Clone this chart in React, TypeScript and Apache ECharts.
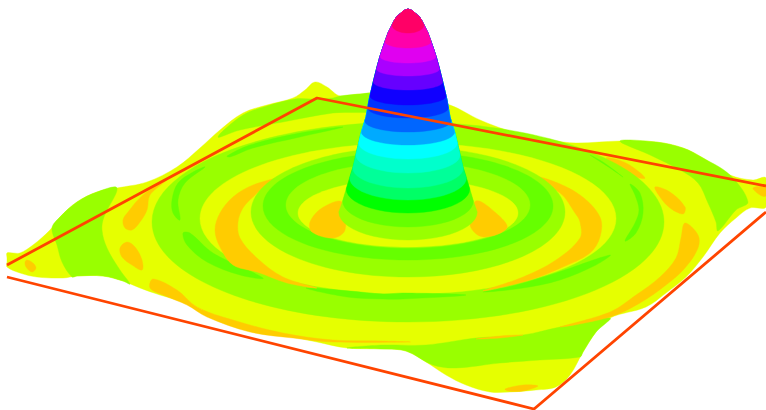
import React, { useEffect, useRef } from "react";
import * as echarts from "echarts";

type Pt = number[];
const LIME = "#99ff00";
const YELLOW = "#e6ff00";
const ORANGE = "#ffcc00";
const GREEN = "#66ff00";
const FRAME = "#ff4400";

const surfaceOutline: Pt[] = [[7,258],[7,253],[13,253],[20,253],[33,245],[50,230],[60,217],[77,202],[97,192],[117,188],[147,182],[177,167],[200,148],[220,130],[243,113],[267,105],[293,98],[305,90],[315,82],[327,87],[340,96],[360,94],[408,95],[450,105],[480,120],[516,133],[550,140],[576,143],[620,141],[656,142],[683,148],[703,158],[730,175],[753,180],[766,178],[766,207],[750,208],[736,218],[720,233],[703,257],[686,277],[666,293],[646,307],[610,318],[596,332],[583,352],[570,375],[556,387],[536,390],[510,392],[490,392],[466,385],[446,375],[426,362],[406,351],[383,349],[347,348],[317,342],[283,335],[250,327],[213,315],[187,303],[160,295],[140,288],[123,281],[103,276],[77,276],[63,278],[37,277],[20,273],[7,267],[7,262]];

const edgeLeft: Pt[] = [[52,228],[60,217],[77,202],[97,192],[117,188],[104,217],[102,230],[107,248],[120,270],[130,284],[123,281],[103,276],[77,276],[72,277],[62,262],[57,245]];
const edgeBack: Pt[] = [[218,137],[243,115],[267,106],[295,99],[313,99],[333,98],[340,96],[360,94],[378,94],[378,110],[333,113],[283,122],[240,130]];
const edgeRight: Pt[] = [[620,141],[656,142],[683,148],[703,158],[730,175],[748,202],[736,210],[718,231],[716,222],[708,203],[698,183],[680,170],[650,155]];
const edgeFront: Pt[] = [[347,348],[383,345],[426,345],[476,338],[523,335],[560,327],[610,318],[596,332],[583,352],[580,357],[540,360],[500,363],[456,368],[433,365],[406,351],[383,349]];

const stripeA: Pt[] = [[483,292],[516,285],[556,273],[610,255],[596,265],[560,280],[523,288]];
const stripeB: Pt[] = [[306,288],[347,297],[383,299],[403,299],[466,295],[403,293],[383,294],[350,291]];
const stripeC: Pt[] = [[183,233],[190,233],[213,253],[263,278],[240,275],[207,262],[187,245]];
const stripeD: Pt[] = [[205,167],[185,183],[178,200],[180,220],[173,213],[172,200],[178,183],[193,172]];
const stripeE: Pt[] = [[227,156],[250,145],[300,133],[343,127],[300,137],[253,148],[230,157]];
const stripeF: Pt[] = [[590,155],[603,162],[623,177],[610,168]];
const stripeG: Pt[] = [[630,184],[640,193],[643,213],[636,233],[625,241],[635,223],[639,210],[635,195]];

const crescentLeft: Pt[] = [[287,176],[253,185],[233,197],[220,213],[215,230],[220,247],[233,265],[257,272],[287,283],[317,288],[283,277],[257,258],[240,238],[238,222],[243,208],[253,197],[267,185]];
const crescentRight: Pt[] = [[526,175],[550,180],[580,195],[600,217],[600,237],[590,253],[563,267],[530,280],[483,291],[523,277],[556,260],[580,238],[580,222],[575,213],[560,193]];
const innerLeft: Pt[] = [[342,202],[322,208],[310,222],[312,232],[333,238],[345,230]];
const innerRight: Pt[] = [[476,201],[496,213],[507,228],[483,237],[470,225]];
const blobA: Pt[] = [[125,228],[123,220],[128,212],[143,195],[167,180],[150,195],[147,210],[140,222],[132,230]];
const blobB: Pt[] = [[127,242],[135,247],[142,260],[142,270],[132,265],[122,257],[120,248]];
const blobC: Pt[] = [[27,260],[33,263],[36,268],[32,272],[26,267],[25,262]];
const blobD: Pt[] = [[153,279],[177,290],[197,307],[233,320],[283,333],[333,340],[383,341],[410,342],[333,342],[293,338],[250,332],[207,317],[187,305],[163,295],[150,288]];
const blobE: Pt[] = [[606,158],[626,163],[645,178],[630,175]];
const blobF: Pt[] = [[655,187],[670,192],[685,207],[683,214],[670,208],[660,197]];
const blobG: Pt[] = [[685,223],[698,235],[698,248],[685,268],[666,285],[640,303],[610,317],[560,327],[610,312],[636,295],[660,277],[676,258],[681,238]];
const blobH: Pt[] = [[753,188],[766,187],[766,196],[760,195]];
const blobI: Pt[] = [[505,389],[523,385],[538,386],[523,391],[508,391]];
const blobJ: Pt[] = [[476,339],[500,336],[523,335],[500,338]];

// cx, cy, rx, ry
const ringOuter = [408, 222, 256, 100];
const ringMid = [408, 218.5, 208, 75.5];
const ringB = [408, 212, 157, 65];
const ringC = [408, 206, 145, 54];
const ringD = [408, 205, 122, 43];
const ringE = [408, 213, 110, 34];

const peakCenter = 408;
const peakColors = ["#99ff00","#66ff00","#00ff00","#00ff66","#00ff99","#00ffcc","#00ffff","#00aaff","#0066ff","#0033ff","#1000ff","#6600ff","#aa00ff","#e000f0","#ff00aa","#ff0066"];
const peakCy = [212,201,189,178,168,155,143,132,121,108,96,82,69,56.5,41.5,25];
const peakRy = [28,26,24,22,20,18,16,13,11,10,9,8,7,6.5,6.5,8];
const profileY = [9,10,11,13,15,17,20,23,28,33,41.5,50,58,67,75,83,100,117,133,150,167,183,200,217];
const profileW = [0,3,5,7,9.5,11.5,13.5,15,17.5,20,23,26,28.5,31,33,35,39,42,47,51,55,60,65,71];

const frameBack: Pt[] = [[7,265],[317,98],[766,186]];
const frameFront: Pt[] = [[7,277],[534,409],[766,212]];

function widthAt(y: number) {
  for (let i = 1; i < profileY.length; i++) {
    if (y <= profileY[i]) {
      const t = (y - profileY[i - 1]) / (profileY[i] - profileY[i - 1]);
      return profileW[i - 1] + t * (profileW[i] - profileW[i - 1]);
    }
  }
  return profileW[profileW.length - 1];
}

function peakBand(i: number): Pt[] {
  const cy = peakCy[i], ry = peakRy[i], rx = widthAt(cy);
  const pts: Pt[] = [];
  for (let k = 0; k <= 24; k++) {
    const a = (Math.PI * k) / 24;
    pts.push([peakCenter + rx * Math.cos(a), cy + ry * Math.sin(a)]);
  }
  const above = profileY.map((y, j) => [y, profileW[j]]).filter((p) => p[0] < cy).reverse();
  above.forEach((p) => pts.push([peakCenter - p[1], p[0]]));
  above.slice().reverse().forEach((p) => pts.push([peakCenter + p[1], p[0]]));
  return pts;
}

type Region = { pts?: Pt[]; ell?: number[]; color: string; sharp?: boolean };
const regions: Region[] = [
  { pts: surfaceOutline, color: YELLOW },
  { pts: edgeLeft, color: LIME },
  { pts: edgeBack, color: LIME },
  { pts: edgeRight, color: LIME },
  { pts: edgeFront, color: LIME },
  ...[blobA, blobB, blobC, blobD, blobE, blobF, blobG, blobH, blobI, blobJ].map((pts) => ({ pts, color: ORANGE })),
  { ell: ringOuter, color: LIME },
  { ell: ringMid, color: YELLOW },
  ...[stripeA, stripeB, stripeC, stripeD, stripeE, stripeF, stripeG].map((pts) => ({ pts, color: GREEN })),
  { pts: crescentLeft, color: ORANGE },
  { pts: crescentRight, color: ORANGE },
  { ell: ringB, color: LIME },
  { ell: ringC, color: GREEN },
  { ell: ringD, color: LIME },
  { ell: ringE, color: YELLOW },
  { pts: innerLeft, color: ORANGE },
  { pts: innerRight, color: ORANGE },
  ...peakColors.map((color, i) => ({ pts: peakBand(i), color, sharp: true })),
];

export default function App() {
  const ref = useRef<HTMLDivElement>(null);
  useEffect(() => {
    document.body.style.margin = "0";
    const chart = echarts.init(ref.current!, null, { renderer: "svg" });
    const renderItem = (params: any, api: any) => {
      const r = regions[params.dataIndex];
      const style = { fill: r.color, stroke: r.color, lineWidth: 0.4 };
      if (r.ell) {
        const c = api.coord([r.ell[0], r.ell[1]]);
        const s = api.size([r.ell[2], r.ell[3]]);
        return { type: "ellipse", shape: { cx: c[0], cy: c[1], rx: s[0], ry: s[1] }, style };
      }
      return { type: "polygon", shape: { points: r.pts!.map((p) => api.coord(p)), smooth: r.sharp ? 0 : 0.35 }, style };
    };
    chart.setOption({
      animation: false,
      backgroundColor: "#ffffff",
      grid: { left: 0, right: 0, top: 0, bottom: 0 },
      xAxis: { type: "value", min: 0, max: 766, show: false },
      yAxis: { type: "value", min: 0, max: 410, inverse: true, show: false },
      series: [
        { type: "custom", silent: true, clip: true, z: 2, data: regions.map((_, i) => [i]), renderItem },
        { type: "line", silent: true, z: 3, symbol: "none", data: frameBack, lineStyle: { color: FRAME, width: 2.8 } },
        { type: "line", silent: true, z: 3, symbol: "none", data: frameFront, lineStyle: { color: FRAME, width: 2.8 } },
      ],
    });
    return () => chart.dispose();
  }, []);
  return <div ref={ref} style={{ position: "absolute", left: 0, top: 0, width: 766, height: 410 }} />;
}
